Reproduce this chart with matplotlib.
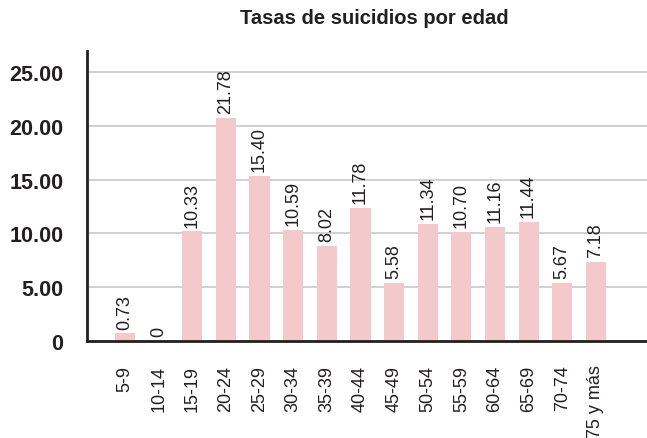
import matplotlib
matplotlib.use("Agg")
import matplotlib.pyplot as plt

categories = ["5-9", "10-14", "15-19", "20-24", "25-29", "30-34", "35-39", "40-44",
              "45-49", "50-54", "55-59", "60-64", "65-69", "70-74", "75 y más"]
# bar heights as drawn in the picture
bar_values = [0.70, 0.0, 10.18, 20.73, 15.38, 10.33, 8.87, 12.38,
              5.41, 10.89, 10.15, 10.61, 11.08, 5.41, 7.36]
# value labels as printed above the bars
value_labels = ["0.73", "0", "10.33", "21.78", "15.40", "10.59", "8.02", "11.78",
                "5.58", "11.34", "10.70", "11.16", "11.44", "5.67", "7.18"]
y_ticks = [0, 5, 10, 15, 20, 25]
y_tick_labels = ["0", "5.00", "10.00", "15.00", "20.00", "25.00"]
title = "Tasas de suicidios por edad"

plt.rcParams['font.family'] = ['Liberation Sans', 'DejaVu Sans']
dark = "#231f20"

fig = plt.figure(figsize=(6.47, 4.39), dpi=100)
ax = fig.add_axes([0.1345, 0.221, 0.8655, 0.6605])

x = list(range(len(categories)))
ax.bar(x, bar_values, width=0.6, color="#f4c9cb", zorder=2)

for xi, h, lab in zip(x, bar_values, value_labels):
    ax.annotate(lab, (xi, h), xytext=(0, 3.5), textcoords="offset points",
                rotation=90, ha="center", va="bottom", fontsize=13, color=dark)

ax.set_xlim(-1.13, 15.52)
ax.set_ylim(0, 26.95)
ax.set_yticks(y_ticks)
ax.set_yticklabels(y_tick_labels, fontsize=15.5, fontweight="bold", color=dark)
ax.set_xticks(x)
ax.set_xticklabels(categories, rotation=90, fontsize=13, color=dark, va="top", ha="center")
ax.tick_params(axis="y", length=0, pad=17)
ax.tick_params(axis="x", length=0, pad=17)

ax.yaxis.grid(True, color="#c8c8c8", linewidth=1.2, zorder=0)
ax.set_axisbelow(True)
for s in ["top", "right"]:
    ax.spines[s].set_visible(False)
for s in ["left", "bottom"]:
    ax.spines[s].set_color(dark)
    ax.spines[s].set_linewidth(2)

fig.text(374 / 647, 1 - 19 / 439, title, ha="center", va="center",
         fontsize=14.5, fontweight="bold", color=dark)

fig.savefig("out.png", dpi=100)
